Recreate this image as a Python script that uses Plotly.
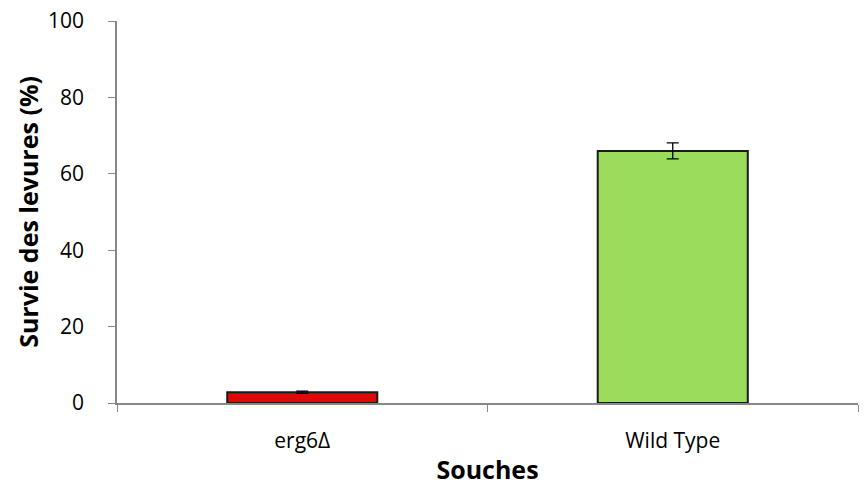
import plotly.graph_objects as go

categories = ["erg6Δ", "Wild Type"]
survival = [2.8, 66.0]
errors = [0.3, 2.1]
bar_colors = ["#E00808", "#9CDC5C"]

fig = go.Figure()
fig.add_trace(go.Bar(
    x=categories, y=survival,
    marker=dict(color=bar_colors, line=dict(color="#1a1a1a", width=2)),
    error_y=dict(type="data", array=errors, visible=True, color="#000000", thickness=1.3, width=6),
    width=0.405,
))

font_family = "'Open Sans', sans-serif"
fig.update_layout(
    width=865, height=486,
    margin=dict(l=117, r=7, t=21, b=83),
    plot_bgcolor="white", paper_bgcolor="white",
    showlegend=False,
    font=dict(family=font_family, color="#000000", size=21),
    xaxis=dict(
        type="category", automargin=False,
        tickson="boundaries",
        ticks="outside", ticklen=7, tickcolor="#888888",
        showline=True, linecolor="#888888", linewidth=1.5,
        tickfont=dict(size=21),
        title=dict(text="<b>Souches</b>", font=dict(size=25), standoff=17),
        ticklabelstandoff=18,
        range=[-0.5, 1.5],
    ),
    yaxis=dict(
        range=[0, 100], tickvals=[0, 20, 40, 60, 80, 100], automargin=False,
        ticks="outside", ticklen=7, tickcolor="#888888",
        showline=True, linecolor="#888888", linewidth=1.5,
        showgrid=False, zeroline=False,
        tickfont=dict(size=21),
        ticklabelstandoff=20,
        title=dict(text="<b>Survie des levures (%)</b>", font=dict(size=25), standoff=2),
    ),
)

fig.write_html("out.html", config={"displayModeBar": False},
               post_script="document.body.style.margin='0';")
